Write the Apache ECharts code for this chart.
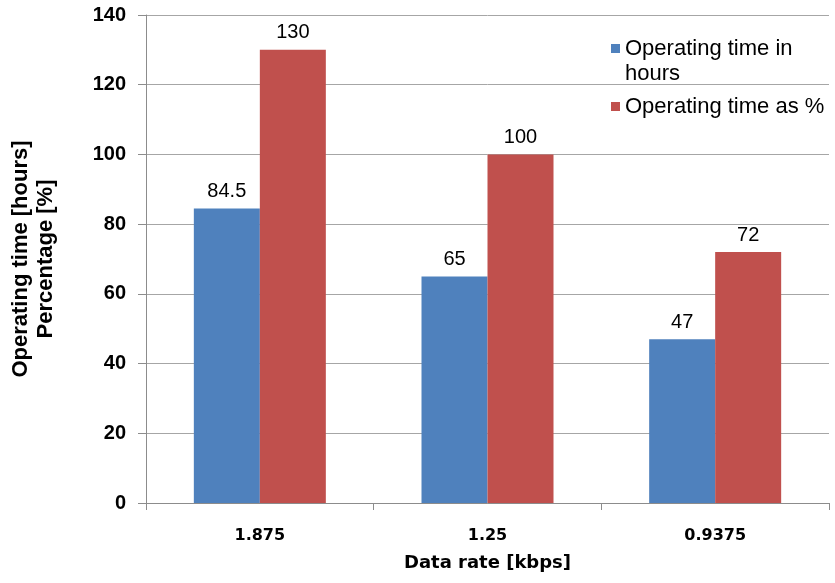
<!DOCTYPE html>
<html>
<head>
<meta charset="utf-8">
<script src="https://cdn.jsdelivr.net/npm/echarts@6/dist/echarts.min.js"></script>
<style>html,body{margin:0;padding:0;background:#fff;}#c{width:835px;height:583px;}</style>
</head>
<body>
<div id="c"></div>
<script>
const categories = ['1.875', '1.25', '0.9375'];
const hoursValues = [84.5, 65, 47];
const percentValues = [130, 100, 72];
const seriesNames = ['Operating time in hours', 'Operating time as %'];
const yTicks = [0, 20, 40, 60, 80, 100, 120, 140];

const chart = echarts.init(document.getElementById('c'), null, {renderer: 'canvas'});
const labelStyle = {show: true, position: 'top', distance: 7, color: '#000', fontFamily: 'Liberation Sans', fontSize: 20};
chart.setOption({
  animation: false,
  backgroundColor: '#fff',
  grid: {left: 146, right: 6, top: 15, bottom: 80, containLabel: false, outerBoundsMode: 'none'},
  legend: [
    {
      data: [seriesNames[0]], orient: 'vertical', left: 611, top: 36, padding: 0,
      itemWidth: 9, itemHeight: 34, symbolKeepAspect: false,
      icon: 'path://M0,0h9v9h-9z M0,34h9',
      formatter: () => 'Operating time in\nhours',
      textStyle: {fontFamily: 'Liberation Sans', fontSize: 22, color: '#000', lineHeight: 25}
    },
    {
      data: [seriesNames[1]], orient: 'vertical', left: 611, top: 94, padding: 0,
      itemWidth: 9, itemHeight: 9, icon: 'rect',
      textStyle: {fontFamily: 'Liberation Sans', fontSize: 22, color: '#000', lineHeight: 25}
    }
  ],
  xAxis: {
    type: 'category', data: categories,
    name: 'Data rate [kbps]', nameLocation: 'middle', nameGap: 51,
    nameTextStyle: {fontFamily: 'DejaVu Sans', fontWeight: 'bold', fontSize: 18, color: '#000'},
    axisLine: {lineStyle: {color: '#8c8c8c', width: 1}},
    axisTick: {show: true, length: 7, lineStyle: {color: '#8c8c8c'}},
    axisLabel: {fontFamily: 'DejaVu Sans', fontWeight: 'bold', fontSize: 16, color: '#000', margin: 25}
  },
  yAxis: {
    type: 'value', min: 0, max: 140, interval: 20,
    name: 'Operating time [hours]\nPercentage [%]', nameLocation: 'middle', nameGap: 88, nameRotate: 90,
    nameTextStyle: {fontFamily: 'Liberation Sans', fontWeight: 'bold', fontSize: 22, color: '#000', lineHeight: 25, align: 'center'},
    axisLine: {show: true, lineStyle: {color: '#8c8c8c', width: 1}},
    axisTick: {show: true, length: 8, lineStyle: {color: '#8c8c8c'}},
    axisLabel: {fontFamily: 'Liberation Sans', fontWeight: 'bold', fontSize: 20, color: '#000', margin: 20,
      formatter: v => yTicks.includes(v) ? String(v) : ''},
    splitLine: {lineStyle: {color: '#a6a6a6', width: 1}}
  },
  series: [
    {name: seriesNames[0], type: 'bar', data: hoursValues, barWidth: 66, barGap: '0%',
      itemStyle: {color: '#4F81BD'}, label: labelStyle},
    {name: seriesNames[1], type: 'bar', data: percentValues, barWidth: 66, barGap: '0%',
      itemStyle: {color: '#C0504D'}, label: labelStyle}
  ]
});
</script>
</body>
</html>
